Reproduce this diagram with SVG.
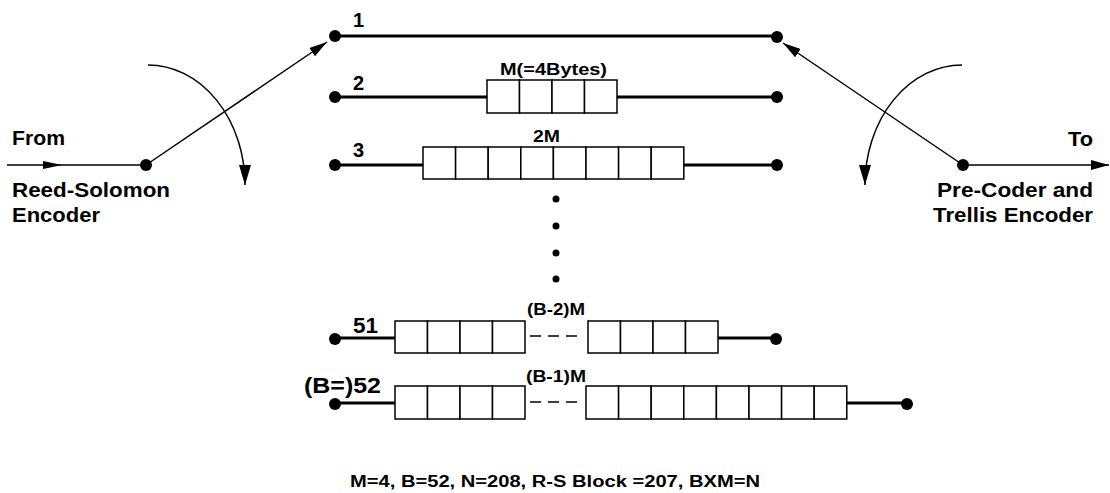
<svg xmlns="http://www.w3.org/2000/svg" width="1110" height="493" viewBox="0 0 1110 493">
<style>
text{font-family:"Liberation Sans",Arial,sans-serif;font-weight:bold;fill:#000}
.lbl{font-size:20px}
.num{font-size:20px}
.big{font-size:22px}
.sm{font-size:16px}
.row{stroke:#000;stroke-width:2.8;fill:none}
.cell{stroke:#000;stroke-width:1.5;fill:#fff}
.thin{stroke:#000;stroke-width:1.5;fill:none}
.dash{stroke:#000;stroke-width:1.5;stroke-dasharray:11 7;fill:none}
</style>
<defs>
<marker id="ah" viewBox="0 0 18 10" refX="18" refY="5" markerWidth="18" markerHeight="10" markerUnits="userSpaceOnUse" orient="auto">
<path d="M0,0 L18,5 L0,10 z" fill="#000"/>
</marker>
<marker id="ah2" viewBox="0 0 20 12" refX="20" refY="6" markerWidth="20" markerHeight="12" markerUnits="userSpaceOnUse" orient="auto">
<path d="M0,0 L20,6 L0,12 z" fill="#000"/>
</marker>
</defs>

<g id="connectors">
<line x1="7" y1="165" x2="146" y2="165" class="thin"/>
<polygon points="43,161 62,165 43,169" fill="#000"/>
<line x1="146" y1="165" x2="327" y2="42" class="thin" marker-end="url(#ah)"/>
<path d="M148,65 A97,120 0 0 1 245,185" class="thin" marker-end="url(#ah2)"/>
<line x1="963" y1="165" x2="783" y2="43" class="thin" marker-end="url(#ah)"/>
<line x1="963" y1="165" x2="1109" y2="165" class="thin" marker-end="url(#ah)"/>
<path d="M962,65 A97,120 0 0 0 865,185" class="thin" marker-end="url(#ah2)"/>
</g>

<g id="input">
<text class="lbl" x="12" y="145" textLength="53" lengthAdjust="spacingAndGlyphs">From</text>
<text class="lbl" x="12" y="197" textLength="158" lengthAdjust="spacingAndGlyphs">Reed-Solomon</text>
<text class="lbl" x="12" y="222" textLength="88" lengthAdjust="spacingAndGlyphs">Encoder</text>
<circle cx="146" cy="165" r="6"/>
</g>

<g id="output">
<text class="lbl" x="1068" y="146" textLength="25" lengthAdjust="spacingAndGlyphs">To</text>
<text class="lbl" x="937" y="197" textLength="156" lengthAdjust="spacingAndGlyphs">Pre-Coder and</text>
<text class="lbl" x="933" y="222" textLength="160" lengthAdjust="spacingAndGlyphs">Trellis Encoder</text>
<circle cx="963" cy="165" r="6"/>
</g>

<g id="branch1">
<line x1="335" y1="36" x2="777" y2="36" class="row"/>
<circle cx="335" cy="36" r="6"/>
<circle cx="777" cy="37" r="6"/>
<text class="num" x="353" y="27">1</text>
</g>

<g id="branch2">
<line x1="335" y1="97" x2="487" y2="97" class="row"/>
<line x1="617" y1="97" x2="777" y2="97" class="row"/>
<circle cx="335" cy="97" r="6"/>
<circle cx="777" cy="97" r="6"/>
<text class="num" x="353" y="90">2</text>
<rect class="cell" x="487" y="80" width="32.5" height="33"/>
<rect class="cell" x="519.5" y="80" width="32.5" height="33"/>
<rect class="cell" x="552" y="80" width="32.5" height="33"/>
<rect class="cell" x="584.5" y="80" width="32.5" height="33"/>
<text class="sm" x="500" y="75" textLength="107" lengthAdjust="spacingAndGlyphs">M(=4Bytes)</text>
</g>

<g id="branch3">
<line x1="335" y1="165" x2="423" y2="165" class="row"/>
<line x1="684" y1="165" x2="777" y2="165" class="row"/>
<circle cx="335" cy="165" r="6"/>
<circle cx="777" cy="165" r="6"/>
<text class="num" x="353" y="157">3</text>
<rect class="cell" x="423" y="147" width="32.6" height="32"/>
<rect class="cell" x="455.6" y="147" width="32.6" height="32"/>
<rect class="cell" x="488.2" y="147" width="32.6" height="32"/>
<rect class="cell" x="520.8" y="147" width="32.6" height="32"/>
<rect class="cell" x="553.4" y="147" width="32.6" height="32"/>
<rect class="cell" x="586" y="147" width="32.6" height="32"/>
<rect class="cell" x="618.6" y="147" width="32.6" height="32"/>
<rect class="cell" x="651.2" y="147" width="32.6" height="32"/>
<text class="sm" x="533" y="142" textLength="27" lengthAdjust="spacingAndGlyphs">2M</text>
</g>

<g id="ellipsis">
<circle cx="556" cy="199" r="3.5"/>
<circle cx="556" cy="226" r="3.5"/>
<circle cx="556" cy="253" r="3.5"/>
<circle cx="556" cy="279" r="3.5"/>
</g>

<g id="branch51">
<line x1="335" y1="338" x2="395" y2="338" class="row"/>
<line x1="718" y1="338" x2="776" y2="338" class="row"/>
<circle cx="335" cy="339" r="6"/>
<circle cx="776" cy="339" r="6"/>
<text class="big" x="353" y="333" textLength="25" lengthAdjust="spacingAndGlyphs">51</text>
<rect class="cell" x="395" y="321" width="32.5" height="32"/>
<rect class="cell" x="427.5" y="321" width="32.5" height="32"/>
<rect class="cell" x="460" y="321" width="32.5" height="32"/>
<rect class="cell" x="492.5" y="321" width="32.5" height="32"/>
<line x1="530" y1="336" x2="580" y2="336" class="dash"/>
<rect class="cell" x="588" y="321" width="32.5" height="32"/>
<rect class="cell" x="620.5" y="321" width="32.5" height="32"/>
<rect class="cell" x="653" y="321" width="32.5" height="32"/>
<rect class="cell" x="685.5" y="321" width="32.5" height="32"/>
<text class="sm" x="527" y="315" textLength="58" lengthAdjust="spacingAndGlyphs">(B-2)M</text>
</g>

<g id="branch52">
<line x1="335" y1="403" x2="395" y2="403" class="row"/>
<line x1="847" y1="403" x2="907" y2="403" class="row"/>
<circle cx="335" cy="404" r="6"/>
<circle cx="907" cy="404" r="6"/>
<text class="big" x="304" y="393" textLength="77" lengthAdjust="spacingAndGlyphs">(B=)52</text>
<rect class="cell" x="395" y="386" width="32.5" height="33"/>
<rect class="cell" x="427.5" y="386" width="32.5" height="33"/>
<rect class="cell" x="460" y="386" width="32.5" height="33"/>
<rect class="cell" x="492.5" y="386" width="32.5" height="33"/>
<line x1="530" y1="402" x2="580" y2="402" class="dash"/>
<rect class="cell" x="586" y="386" width="32.6" height="33"/>
<rect class="cell" x="618.6" y="386" width="32.6" height="33"/>
<rect class="cell" x="651.2" y="386" width="32.6" height="33"/>
<rect class="cell" x="683.8" y="386" width="32.6" height="33"/>
<rect class="cell" x="716.4" y="386" width="32.6" height="33"/>
<rect class="cell" x="749" y="386" width="32.6" height="33"/>
<rect class="cell" x="781.6" y="386" width="32.6" height="33"/>
<rect class="cell" x="814.2" y="386" width="32.6" height="33"/>
<text class="sm" x="526" y="382" textLength="60" lengthAdjust="spacingAndGlyphs">(B-1)M</text>
</g>

<g id="caption">
<text class="sm" x="350" y="487" textLength="410" lengthAdjust="spacingAndGlyphs">M=4, B=52, N=208, R-S Block =207, BXM=N</text>
</g>
</svg>
